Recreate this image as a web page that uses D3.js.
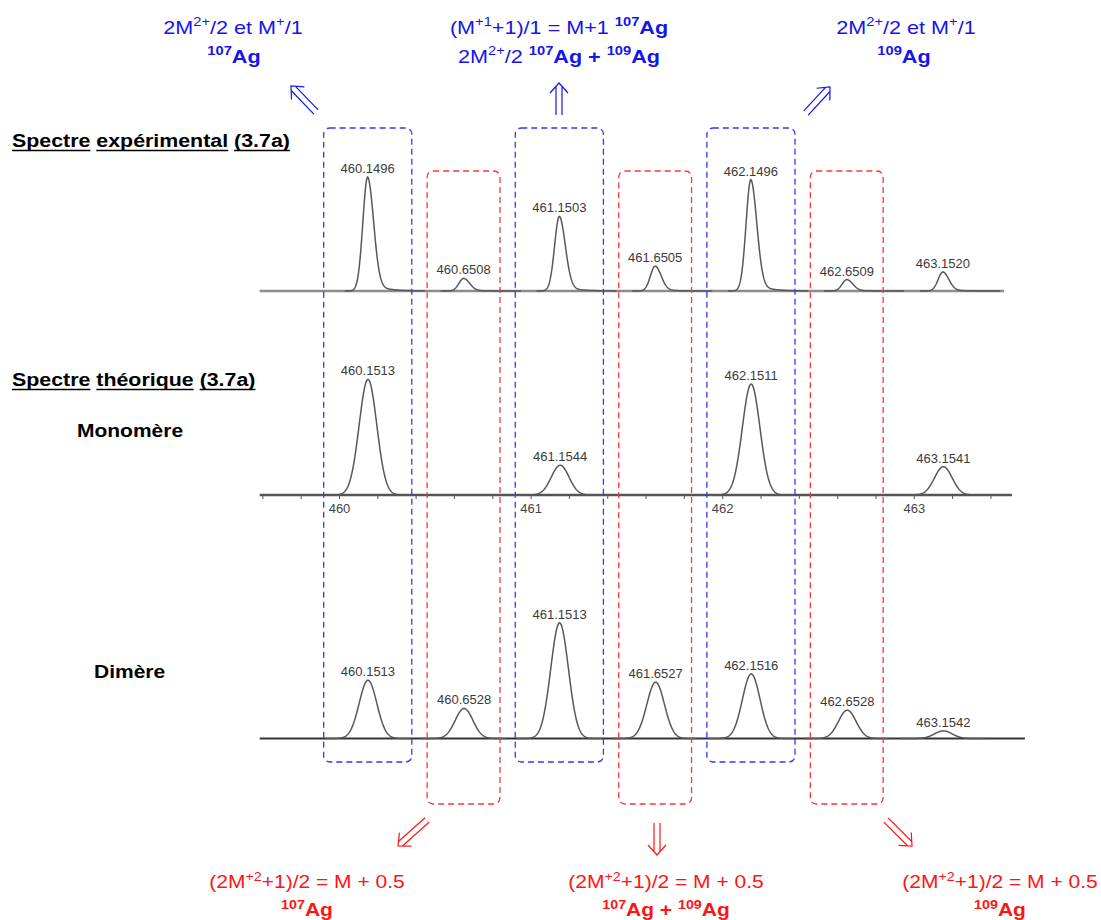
<!DOCTYPE html>
<html>
<head>
<meta charset="utf-8">
<script src="https://cdn.jsdelivr.net/npm/d3@7/dist/d3.min.js"></script>
<style>
  body { margin: 0; background: #fff; }
  text { font-family: "Liberation Sans", Arial, sans-serif; white-space: pre; }
</style>
</head>
<body>
<script>
// Peak lists: m/z and relative intensity (%)
const expMz  = [460.1496, 460.6508, 461.1503, 461.6505, 462.1496, 462.6509, 463.1520];
const expInt = [100, 11.1, 65.5, 21.9, 97.7, 10.0, 16.7];

const monoMz  = [460.1513, 461.1544, 462.1511, 463.1541];
const monoInt = [100, 25.7, 95.9, 24.5];

const dimMz  = [460.1513, 460.6528, 461.1513, 461.6527, 462.1516, 462.6528, 463.1542];
const dimInt = [50.4, 26.0, 100, 48.7, 55.9, 24.5, 6.6];

// axis labels of the theoretical spectrum
const axisTicks = [460, 461, 462, 463];

// isotope groups framed by the dashed boxes
const blueGroups = [460.15, 461.15, 462.15];
const redGroups  = [460.65, 461.65, 462.65];

const BLUE = "#1414ee", RED = "#ff1414";
const stretch = 1.2;   // the annotation font is drawn wide

var svg = d3.select("body").append("svg")
    .attr("width", 1101)
    .attr("height", 920);

// one m/z scale shared by the three spectra
var x = d3.scaleLinear().domain([460, 463]).range([339, 913.8]);

var panels = [
  {mz: expMz,  int: expInt,  base: 291,   h: 114,   x0: 459.586, x1: 463.471, kind: "exp",   line: "#8c8c8c", lw: 2.4},
  {mz: monoMz, int: monoInt, base: 495,   h: 115.7, x0: 459.586, x1: 463.512, kind: "gauss", line: "#555",    lw: 2.4, axis: true},
  {mz: dimMz,  int: dimInt,  base: 738.5, h: 115.6, x0: 459.586, x1: 463.58,  kind: "gauss", line: "#333",    lw: 2}
];

// peak profile (dx in m/z units)
function profile(kind, dx) {
  if (kind === "gauss") return Math.exp(-dx * dx / (2 * 0.046 * 0.046));
  if (dx < 0) return Math.exp(-dx * dx / (2 * 0.025 * 0.025));
  return 0.92 * Math.exp(-dx * dx / (2 * 0.031 * 0.031)) + 0.08 * Math.exp(-dx / 0.07);
}

panels.forEach(function(p) {
  var y = d3.scaleLinear().domain([0, 100]).range([p.base, p.base - p.h]);
  var g = svg.append("g");

  // baseline
  g.append("line")
      .attr("x1", x(p.x0)).attr("x2", x(p.x1))
      .attr("y1", p.base).attr("y2", p.base)
      .attr("stroke", p.line)
      .attr("stroke-width", p.lw);

  if (p.axis) {
    var minor = d3.range(0, 20).map(i => +(459.6 + i * 0.2).toFixed(1));
    var ax = g.append("g")
        .attr("transform", `translate(0,${p.base})`)
        .call(d3.axisBottom(x).tickValues(minor).tickSize(4).tickPadding(5)
              .tickFormat(d => axisTicks.includes(d) ? d : ""));
    ax.select(".domain").remove();
    ax.selectAll("line").attr("stroke", "#555");
    ax.selectAll("text").attr("fill", "#444").attr("font-size", 13)
        .attr("font-family", '"Liberation Sans", Arial, sans-serif');
  }

  var steps = p.kind === "exp" ? d3.range(-0.12, 0.3, 0.002) : d3.range(-0.22, 0.22, 0.002);

  p.mz.forEach(function(m, i) {
    var v = p.int[i];
    g.append("path")
        .attr("fill", "none")
        .attr("stroke", "#585858")
        .attr("stroke-width", 1.5)
        .attr("d", d3.line()
            .x(dx => x(m + dx))
            .y(dx => y(v * profile(p.kind, dx)))(steps));

    g.append("text")
        .attr("x", x(m))
        .attr("y", y(v) - 4)
        .attr("text-anchor", "middle")
        .attr("font-size", 13)
        .attr("fill", "#3a3a3a")
        .text(m.toFixed(4));
  });
});

// dashed group boxes
function boxes(groups, half, top, bottom, color) {
  svg.append("g").selectAll("rect").data(groups)
    .enter().append("rect")
      .attr("x", d => x(d - half))
      .attr("width", d => x(d + half) - x(d - half))
      .attr("y", top)
      .attr("height", bottom - top)
      .attr("rx", 6)
      .attr("fill", "none")
      .attr("stroke", color)
      .attr("stroke-width", 1.3)
      .attr("stroke-dasharray", "6,4");
}
boxes(blueGroups, 0.23, 128, 762, "#3535ff");
boxes(redGroups, 0.19, 171, 804, "#ff3535");

// text with superscripts: "^" = superscript, "!" = bold
function richText(cx, y, parts, color, size) {
  var t = svg.append("g")
      .attr("transform", `translate(${cx},${y}) scale(${stretch},1)`)
    .append("text")
      .attr("text-anchor", "middle")
      .attr("fill", color)
      .attr("font-size", size);
  var raised = false;
  parts.forEach(function(s) {
    var bold = s[0] === "!";
    if (bold) s = s.slice(1);
    var sup = s[0] === "^";
    if (sup) s = s.slice(1);
    var ts = t.append("tspan").text(s).attr("font-weight", bold ? "bold" : "normal");
    if (sup) ts.attr("font-size", size * 0.68);
    if (sup && !raised) ts.attr("dy", -0.42 * size);
    if (!sup && raised) ts.attr("dy", 0.42 * size);
    raised = sup;
  });
}

var eqUp = ["2M", "^2+", "/2 et M", "^+", "/1"];
var eqDown = ["(2M", "^+2", "+1)/2 = M + 0.5"];

richText(233, 34, eqUp, BLUE, 18);
richText(234, 63, ["!^107", "!Ag"], BLUE, 18);
richText(559, 34, ["(M", "^+1", "+1)/1 = M+1 ", "!^107", "!Ag"], BLUE, 18);
richText(559, 63, ["2M", "^2+", "/2 ", "!^107", "!Ag + ", "!^109", "!Ag"], BLUE, 18);
richText(906, 34, eqUp, BLUE, 18);
richText(904, 63, ["!^109", "!Ag"], BLUE, 18);

richText(307, 888, eqDown, RED, 17.5);
richText(307, 916, ["!^107", "!Ag"], RED, 17.5);
richText(666, 888, eqDown, RED, 17.5);
richText(666, 916, ["!^107", "!Ag + ", "!^109", "!Ag"], RED, 17.5);
richText(1000, 888, eqDown, RED, 17.5);
richText(1000, 916, ["!^109", "!Ag"], RED, 17.5);

// underlined section headers
function header(x0, y, words) {
  var g = svg.append("g").attr("transform", `translate(${x0},${y}) scale(${stretch},1)`);
  var cx = 0;
  words.forEach(function(w) {
    var t = g.append("text").attr("x", cx)
        .attr("font-weight", "bold").attr("font-size", 17.8).text(w);
    var len = t.node().getComputedTextLength();
    g.append("line").attr("x1", cx).attr("x2", cx + len)
        .attr("y1", 3.5).attr("y2", 3.5)
        .attr("stroke", "#000").attr("stroke-width", 1.4);
    cx += len + 5;
  });
}
header(12, 147, ["Spectre", "expérimental", "(3.7a)"]);
header(12, 386, ["Spectre", "théorique", "(3.7a)"]);

svg.append("text").attr("transform", `translate(77,437) scale(${stretch},1)`)
    .attr("font-weight", "bold").attr("font-size", 17.5).text("Monomère");
svg.append("text").attr("transform", `translate(94,678) scale(${stretch},1)`)
    .attr("font-weight", "bold").attr("font-size", 17.5).text("Dimère");

// double arrows (tip, tail)
var arrows = [
  {tip: [291, 86],    tail: [316, 112],   c: BLUE},
  {tip: [559, 83],    tail: [559, 115],   c: BLUE},
  {tip: [830, 87],    tail: [806, 113],   c: BLUE},
  {tip: [398, 846],   tail: [427, 820],   c: RED},
  {tip: [657, 855],   tail: [657, 823],   c: RED},
  {tip: [912, 846],   tail: [886, 820],   c: RED}
];

arrows.forEach(function(a) {
  var dx = a.tip[0] - a.tail[0], dy = a.tip[1] - a.tail[1];
  var len = Math.hypot(dx, dy);
  var ux = dx / len, uy = dy / len, nx = -uy, ny = ux;
  var hl = 10, hw = 9, gap = 3;
  var tx = a.tip[0], ty = a.tip[1];
  var meet = hl * gap / hw;
  var d = `M${tx - ux*hl + nx*hw},${ty - uy*hl + ny*hw}L${tx},${ty}L${tx - ux*hl - nx*hw},${ty - uy*hl - ny*hw}`
    + `M${tx - ux*meet + nx*gap},${ty - uy*meet + ny*gap}L${a.tail[0] + nx*gap},${a.tail[1] + ny*gap}`
    + `M${tx - ux*meet - nx*gap},${ty - uy*meet - ny*gap}L${a.tail[0] - nx*gap},${a.tail[1] - ny*gap}`;
  svg.append("path").attr("d", d)
      .attr("fill", "none").attr("stroke", a.c).attr("stroke-width", 1.2);
});
</script>
</body>
</html>
